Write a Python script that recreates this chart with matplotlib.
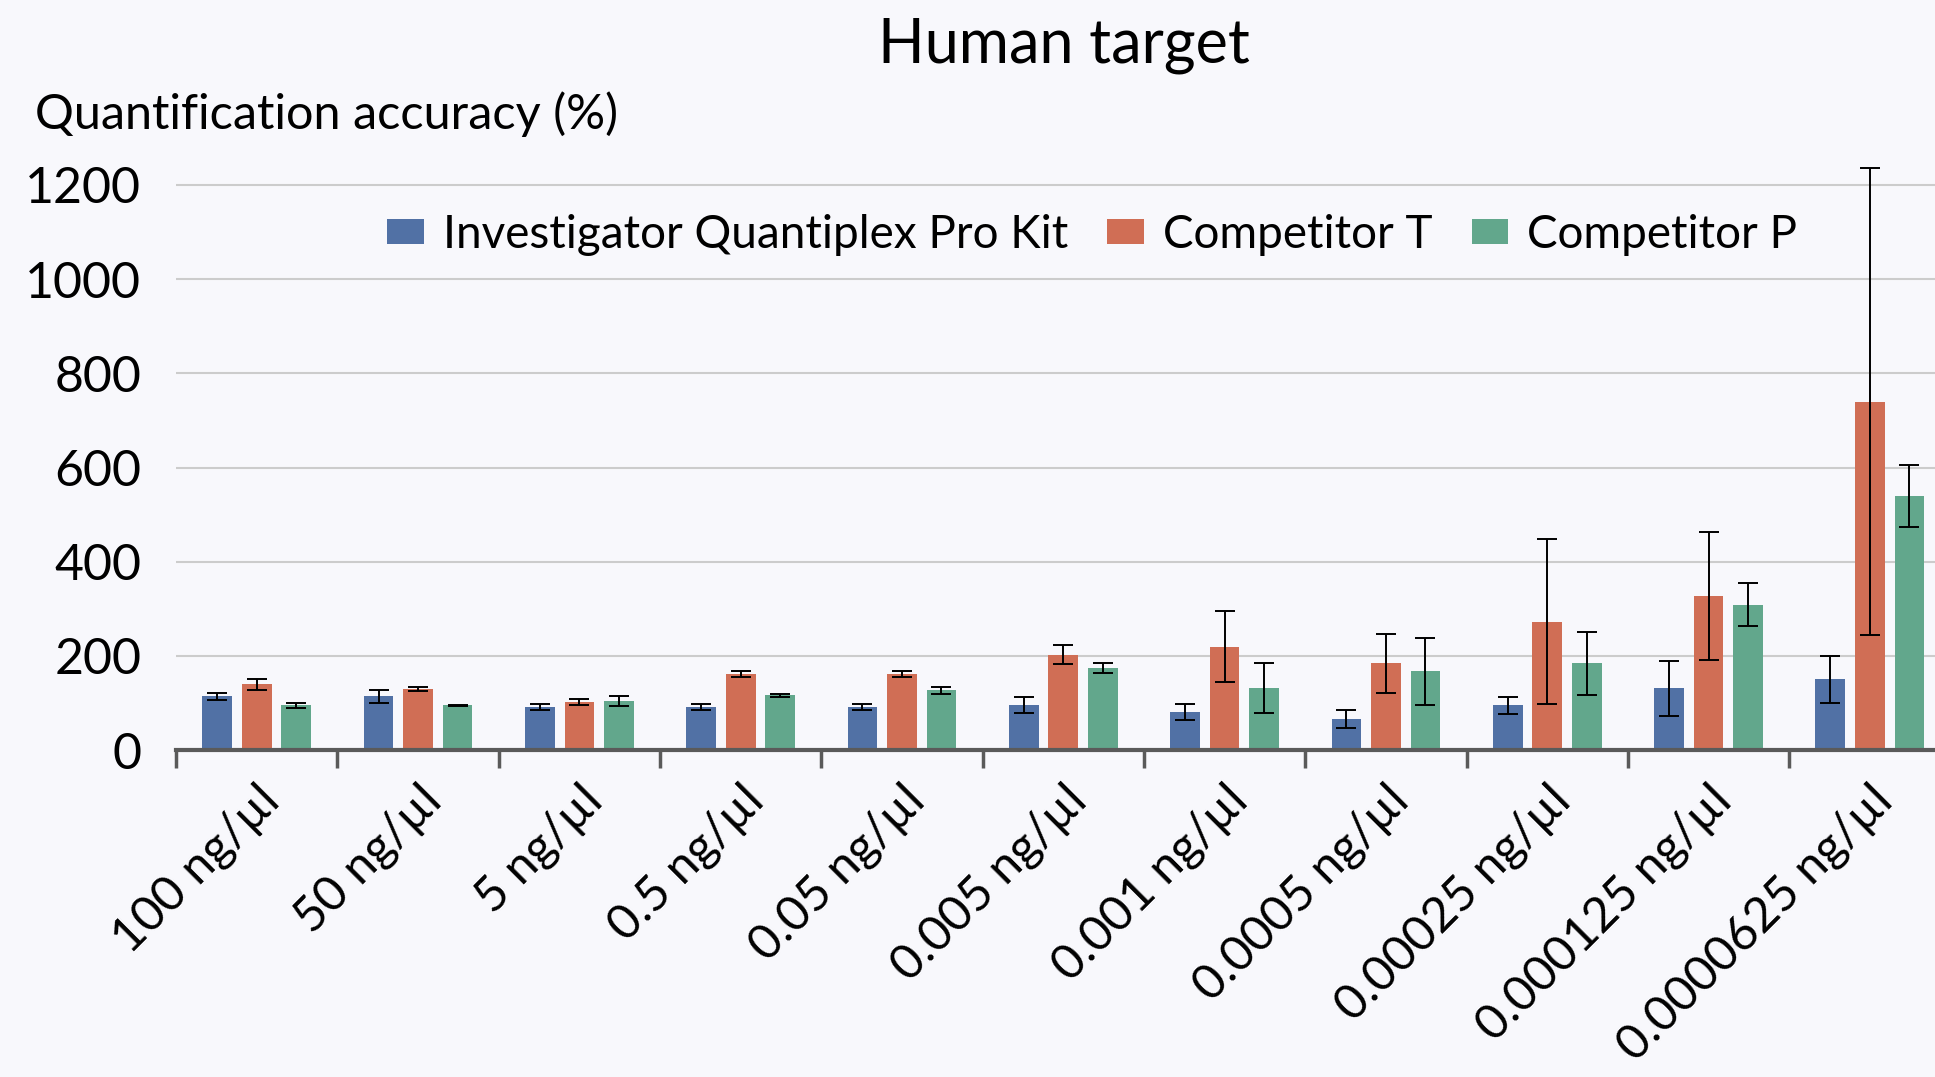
import numpy as np
import matplotlib.pyplot as plt
import matplotlib as mpl

mpl.rcParams['font.family'] = ['Lato', 'DejaVu Sans']

# data
categories = ['100 ng/µl', '50 ng/µl', '5 ng/µl', '0.5 ng/µl', '0.05 ng/µl', '0.005 ng/µl',
              '0.001 ng/µl', '0.0005 ng/µl', '0.00025 ng/µl', '0.000125 ng/µl', '0.0000625 ng/µl']
series_names = ['Investigator Quantiplex Pro Kit', 'Competitor T', 'Competitor P']

qiagen = [114, 114, 91, 91, 91, 95, 80, 66, 95, 131, 150]
qiagen_err = [8, 14, 6, 6, 6, 17, 17, 19, 18, 59, 50]
comp_t = [140, 129, 102, 161, 161, 203, 220, 184, 273, 328, 740]
comp_t_err = [12, 4, 7, 6, 6, 20, 76, 62, 176, 136, 495]
comp_p = [95, 95, 104, 116, 127, 174, 131, 167, 184, 309, 540]
comp_p_err = [6, 1, 10, 4, 8, 10, 53, 71, 67, 46, 66]

colors = ['#5171a5', '#d06e55', '#62a78c']
bg = '#f8f8fc'

fig = plt.figure(figsize=(19.35, 10.77), dpi=100, facecolor=bg)
ax = fig.add_axes([0.091, 0.3035, 0.917, 0.551])
ax.set_facecolor(bg)

x = np.arange(len(categories)) + 0.5
w = 0.184
step = 0.245
for i, (vals, errs) in enumerate([(qiagen, qiagen_err), (comp_t, comp_t_err), (comp_p, comp_p_err)]):
    ax.bar(x + (i - 1) * step, vals, width=w, color=colors[i], label=series_names[i], zorder=3,
           yerr=errs, error_kw=dict(ecolor='black', elinewidth=1.4, capsize=7.5, capthick=1.4, zorder=4))

ax.set_xlim(0, len(categories))
ax.set_ylim(0, 1260)
ax.set_yticks(np.arange(0, 1201, 200))
ax.yaxis.grid(True, color='#cccccc', linewidth=1.5, zorder=0)
ax.tick_params(axis='y', length=0, labelsize=36, pad=25)

ax.set_xticks(x)
ax.set_xticklabels(categories, rotation=45, ha='right', rotation_mode='anchor', fontsize=35)
ax.set_xticks(np.arange(len(categories) + 1), minor=True)
ax.tick_params(axis='x', which='major', length=0, pad=20)
ax.tick_params(axis='x', which='minor', length=13, width=2.5, color='#5a5a5a')

for s in ['top', 'right', 'left']:
    ax.spines[s].set_visible(False)
ax.spines['bottom'].set_color('#5a5a5a')
ax.spines['bottom'].set_linewidth(3)
ax.spines['bottom'].set_zorder(5)

fig.text(0.55, 0.958, 'Human target', ha='center', va='center', fontsize=44)
fig.text(0.018, 0.894, 'Quantification accuracy (%)', ha='left', va='center', fontsize=35)

leg = ax.legend(loc='center left', bbox_to_anchor=(0.2, 0.782), bbox_transform=fig.transFigure,
                ncol=3, frameon=False, fontsize=33, handlelength=0.8, handleheight=0.45,
                handletextpad=0.42, columnspacing=0.85, borderpad=0, borderaxespad=0)

plt.savefig('out.png', dpi=100, facecolor=bg)
